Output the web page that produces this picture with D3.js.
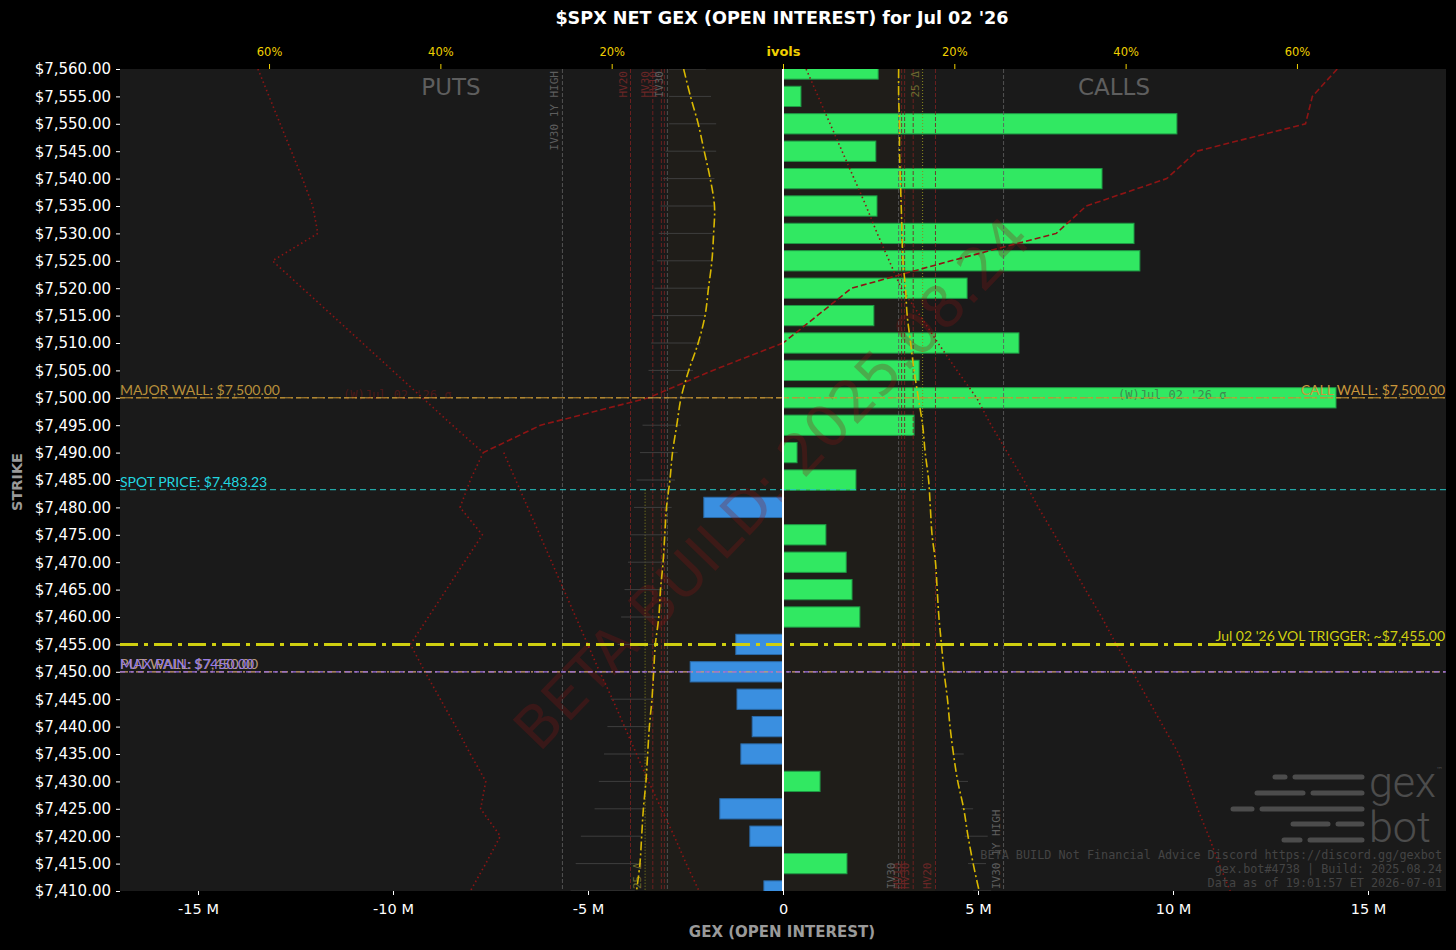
<!DOCTYPE html>
<html><head><meta charset="utf-8">
<script src="https://cdn.jsdelivr.net/npm/d3@7/dist/d3.min.js"></script>
<style>body{margin:0;background:#000;}svg{display:block}</style>
</head><body>
<svg id="chart" width="1456" height="950"></svg>
<script>
// ---------------- DATA ----------------
const strikes = [7560,7555,7550,7545,7540,7535,7530,7525,7520,7515,7510,7505,7500,7495,7490,7485,7480,7475,7470,7465,7460,7455,7450,7445,7440,7435,7430,7425,7420,7415,7410];
const netGex = [2.44,0.46,10.1,2.38,8.18,2.41,9.0,9.15,4.72,2.33,6.05,3.49,14.18,3.36,0.36,1.87,-2.03,1.10,1.62,1.77,1.97,-1.21,-2.38,-1.18,-0.79,-1.08,0.95,-1.62,-0.85,1.64,-0.49];
const putIV = [11.6,10.8,9.9,9.2,8.5,8.0,8.1,8.3,8.7,9.1,9.9,11.0,11.9,12.4,12.9,13.2,13.6,13.8,14.0,14.3,14.5,14.9,15.1,15.3,15.6,15.8,16.0,16.3,16.5,16.7,17.1];
const callIV = [13.5,13.5,13.6,13.6,13.7,13.8,13.9,14.0,14.3,14.5,14.9,15.3,15.8,16.3,16.6,17.0,17.2,17.4,17.8,18.0,18.2,18.5,18.8,19.2,19.5,19.9,20.4,21.1,21.6,22.2,22.9];
const putRangeHigh = [13.3,13.3,13.3,13.7,14.0,14.3,14.5,14.7,15.0,15.2,15.4,15.7,16.0,16.4,16.7,17.1,17.4,17.8,18.1,18.5,18.9,19.3,19.6,20.1,20.5,20.9,21.5,22.0,23.6,24.2,24.8];
const putRangeLow  = [9.0,8.4,7.8,7.8,8.0,8.1,8.2,8.4,8.7,9.0,9.6,10.5,11.3,11.9,12.3,12.6,13.0,13.5,13.7,14.0,14.3,14.5,14.7,15.1,15.4,15.7,15.9,16.1,16.6,17.0,17.3];
const callRangeStrikes = [7435,7430,7425,7420,7415,7410];
const callRangeLow  = [19.9,20.5,20.8,21.2,21.6,22.2];
const callRangeHigh = [21.1,21.6,22.2,23.9,23.7,24.3];
// red skew curves (ivol %)
const putSkewDotted = [61.3,60.0,58.7,57.4,56.1,54.9,54.3,59.6,56.1,52.6,49.1,45.6,42.1,38.6,35.0,36.5,37.7,35.1,37.2,39.3,41.4,43.5,41.8,40.0,38.2,36.5,34.7,35.3,33.0,34.7,36.5];
const putSkewDashedStrikes = [7510,7505,7500,7495,7490];
const putSkewDashed = [0.0,8.2,15.7,28.3,35.0];
const putSkewDotted2Strikes = [7490,7485,7480,7475,7470,7465,7460,7455,7450,7445,7440,7435,7430,7425,7420,7415,7410];
const putSkewDotted2 = [32.6,31.2,29.8,28.4,27.0,25.6,24.2,22.8,21.4,19.9,18.5,17.1,15.7,14.2,12.7,11.3,9.8];
const callSkewDashedStrikes = [7560,7555,7550,7545,7540,7535,7530,7525,7520,7515,7510];
const callSkewDashed = [64.7,61.8,61.0,48.3,44.8,35.4,31.9,19.6,8.0,4.0,0.0];
const callSkewDotted = [2.7,4.1,5.5,6.9,8.3,9.7,11.0,12.4,13.8,16.0,18.1,20.3,22.6,24.3,26.2,28.1,29.8,31.7,33.5,35.3,37.2,38.9,40.8,42.6,44.4,46.2,47.3,48.4,49.7,50.9,52.2];
// realized / implied vol reference lines (%)
const volLineNames  = ["IV30 1Y HIGH","HV20","HV30","HV10","HV5","IV30"];
const volLineValues = [25.75,17.8,15.2,14.2,13.85,13.5];
const volLineKinds  = ["iv","hv","hv","hv","hv","iv"];
const delta25Put = 16.1, delta25Call = 16.3;
// levels
const spotPrice = 7483.23, majorWall = 7500, callWall = 7500, volTrigger = 7455, putWall = 7450, maxPain = 7450;
// axes ticks
const gexTicks = [-15,-10,-5,0,5,10,15];
const gexTickLabels = ["-15 M","-10 M","-5 M","0","5 M","10 M","15 M"];
const ivTicks = [-60,-40,-20,0,20,40,60];
const ivTickLabels = ["60%","40%","20%","ivols","20%","40%","60%"];
const footerLines = ["BETA BUILD Not Financial Advice Discord https://discord.gg/gexbot","gex.bot#4738 | Build: 2025.08.24","Data as of 19:01:57 ET 2026-07-01"];

// ---------------- LAYOUT ----------------
const L=120, R=1446, T=69, B=891;
const svg = d3.select("#chart");
const x = d3.scaleLinear().domain([-17,17]).range([L,R]);
const iv = d3.scaleLinear().domain([-77.4,77.4]).range([L,R]);
const y = d3.scaleLinear().domain([7410,7560]).range([B,T]);
const step = y(7505)-y(7510);
const pX = v => iv(-v), cX = v => iv(v);

svg.append("rect").attr("width",1456).attr("height",950).attr("fill","#000");
svg.append("defs").append("clipPath").attr("id","clip").append("rect").attr("x",L).attr("y",T).attr("width",R-L).attr("height",B-T);
const g = svg.append("g").attr("clip-path","url(#clip)");
g.append("rect").attr("x",L).attr("y",T).attr("width",R-L).attr("height",B-T).attr("fill","#1a1a1a");
// shaded zone
g.append("rect").attr("x",pX(13.5)).attr("y",T).attr("width",cX(delta25Call)-pX(13.5)).attr("height",y(spotPrice)-T).attr("fill","#1f1d19");
g.append("rect").attr("x",pX(delta25Put)).attr("y",y(spotPrice)).attr("width",cX(17.8)-pX(delta25Put)).attr("height",B-y(spotPrice)).attr("fill","#1f1d19");

// bars
g.selectAll("rect.bar").data(strikes).join("rect").attr("class","bar")
  .attr("x",(d,i)=>Math.min(x(0),x(netGex[i])))
  .attr("width",(d,i)=>Math.abs(x(netGex[i])-x(0)))
  .attr("y",d=>y(d)-step*0.37).attr("height",step*0.74)
  .attr("fill",(d,i)=>netGex[i]>=0?"#31e862":"#3a8fe0")
  .attr("stroke",(d,i)=>netGex[i]>=0?"#1f9a45":"#2a6aa8").attr("stroke-width",1);

// watermark
g.append("text").attr("transform",`translate(775,486) rotate(-46)`).attr("text-anchor","middle")
  .attr("font-family","DejaVu Sans").attr("font-size",58).attr("fill","#8a1414").attr("opacity",0.28)
  .attr("dominant-baseline","middle").text("BETA BUILD: 2025.08.24");

// vertical vol lines
volLineValues.forEach((v,i)=>{
  const col = volLineKinds[i]==="iv"?"#5c5c5c":"#7a2222";
  [pX(v),cX(v)].forEach(xx=>{
    g.append("line").attr("x1",xx).attr("x2",xx).attr("y1",T).attr("y2",B)
      .attr("stroke",col).attr("stroke-width",1).attr("stroke-dasharray","4,2").attr("opacity",0.85);
  });
  if(volLineNames[i]!=="HV5"){
    g.append("text").attr("transform",`translate(${pX(v)-4},${T+2}) rotate(-90)`).attr("text-anchor","end")
      .attr("font-family","DejaVu Sans Mono").attr("font-size",11).attr("fill",volLineKinds[i]==="iv"?"#5e5e5e":"#6a2626").text(volLineNames[i]);
    g.append("text").attr("transform",`translate(${cX(v)-4},${B-2}) rotate(-90)`).attr("text-anchor","start")
      .attr("font-family","DejaVu Sans Mono").attr("font-size",11).attr("fill",volLineKinds[i]==="iv"?"#5e5e5e":"#6a2626").text(volLineNames[i]);
  }
});
// 25 delta lines
g.append("line").attr("x1",cX(delta25Call)).attr("x2",cX(delta25Call)).attr("y1",T).attr("y2",y(spotPrice))
  .attr("stroke","#8c8c20").attr("stroke-dasharray","1,2");
g.append("line").attr("x1",pX(delta25Put)).attr("x2",pX(delta25Put)).attr("y1",y(spotPrice)).attr("y2",B)
  .attr("stroke","#8c8c20").attr("stroke-dasharray","1,2");
g.append("text").attr("transform",`translate(${cX(delta25Call)-4},${T+2}) rotate(-90)`).attr("text-anchor","end")
  .attr("font-family","DejaVu Sans Mono").attr("font-size",11).attr("fill","#6e6a30").text("25 Δ");
g.append("text").attr("transform",`translate(${pX(delta25Put)-4},${B-2}) rotate(-90)`).attr("text-anchor","start")
  .attr("font-family","DejaVu Sans Mono").attr("font-size",11).attr("fill","#6e6a30").text("25 Δ");

// range segments
strikes.forEach((s,i)=>{
  g.append("line").attr("x1",pX(putRangeHigh[i])).attr("x2",pX(putRangeLow[i])).attr("y1",y(s)).attr("y2",y(s))
    .attr("stroke","#3e3e3e").attr("stroke-width",1);
});
callRangeStrikes.forEach((s,i)=>{
  g.append("line").attr("x1",cX(callRangeLow[i])).attr("x2",cX(callRangeHigh[i])).attr("y1",y(s)).attr("y2",y(s))
    .attr("stroke","#3e3e3e").attr("stroke-width",1);
});

// red skew curves
const red="#8e1414";
const lineP = d3.line().x(d=>pX(d[1])).y(d=>y(d[0]));
const lineC = d3.line().x(d=>cX(d[1])).y(d=>y(d[0]));
g.append("path").attr("d",lineP(strikes.map((s,i)=>[s,putSkewDotted[i]]))).attr("fill","none").attr("stroke",red).attr("stroke-width",1.6).attr("stroke-dasharray","1.5,3");
g.append("path").attr("d",lineP(putSkewDashedStrikes.map((s,i)=>[s,putSkewDashed[i]]))).attr("fill","none").attr("stroke",red).attr("stroke-width",1.6).attr("stroke-dasharray","6,3");
g.append("path").attr("d",lineP(putSkewDotted2Strikes.map((s,i)=>[s,putSkewDotted2[i]]))).attr("fill","none").attr("stroke",red).attr("stroke-width",1.6).attr("stroke-dasharray","1.5,3");
g.append("path").attr("d",lineC(callSkewDashedStrikes.map((s,i)=>[s,callSkewDashed[i]]))).attr("fill","none").attr("stroke",red).attr("stroke-width",1.6).attr("stroke-dasharray","6,3");
g.append("path").attr("d",lineC(strikes.map((s,i)=>[s,callSkewDotted[i]]))).attr("fill","none").attr("stroke",red).attr("stroke-width",1.6).attr("stroke-dasharray","1.5,3");

// yellow IV curves
const curve = d3.curveCatmullRom;
g.append("path").attr("d",d3.line().curve(curve).x(d=>pX(d[1])).y(d=>y(d[0]))(strikes.map((s,i)=>[s,putIV[i]])))
  .attr("fill","none").attr("stroke","#d9b800").attr("stroke-width",1.6).attr("stroke-dasharray","9,3,2,3");
g.append("path").attr("d",d3.line().curve(curve).x(d=>cX(d[1])).y(d=>y(d[0]))(strikes.map((s,i)=>[s,callIV[i]])))
  .attr("fill","none").attr("stroke","#d9b800").attr("stroke-width",1.6).attr("stroke-dasharray","9,3,2,3");

// ghost labels
g.append("text").attr("x",1118).attr("y",399).attr("font-family","DejaVu Sans Mono").attr("font-size",12).attr("fill","#3f8a50").text("(W)Jul 02 '26 σ");
g.append("text").attr("x",343).attr("y",399).attr("font-family","DejaVu Sans Mono").attr("font-size",12).attr("fill","#4a1818").text("(W)Jul 02 '26 σ");

// horizontal levels
function hline(v,col,w,dash){g.append("line").attr("x1",L).attr("x2",R).attr("y1",y(v)).attr("y2",y(v)).attr("stroke",col).attr("stroke-width",w).attr("stroke-dasharray",dash);}
function lbl(txt,xx,v,col,anchor){g.append("text").attr("x",xx).attr("y",y(v)-3).attr("text-anchor",anchor).attr("font-family","Lato").attr("font-size",14).attr("fill",col).text(txt);}
hline(callWall,"#d99a2a",1,"5,3");
hline(majorWall,"#b8903a",1,"8,3,2,3");
hline(spotPrice,"#25c8c8",1,"6,4");
hline(volTrigger,"#cfcf10",3,"18,6,4,6");
hline(putWall,"#d0a070",1.2,"8,3,2,3");
hline(maxPain,"#9a6ee0",1.2,"5,4");
lbl("MAJOR WALL: $7,500.00",L,majorWall,"#b8903a","start");
lbl("CALL WALL: $7,500.00",R-1,callWall,"#c9963a","end");
lbl("SPOT PRICE: $7,483.23",L,spotPrice,"#22d8e0","start");
lbl("Jul 02 '26 VOL TRIGGER: ~$7,455.00",R-1,volTrigger,"#d0d010","end");
lbl("PUT WALL: $7,450.00",L,putWall,"#b89a78","start");
lbl("MAX PAIN: $7450.00",L,maxPain,"#9a7ee6","start");

// zero line
g.append("line").attr("x1",x(0)).attr("x2",x(0)).attr("y1",T).attr("y2",B).attr("stroke","#fff").attr("stroke-width",2);

// PUTS / CALLS
g.append("text").attr("x",451).attr("y",95).attr("text-anchor","middle").attr("font-family","DejaVu Sans").attr("font-size",23).attr("fill","#5e5e5e").text("PUTS");
g.append("text").attr("x",1114).attr("y",95).attr("text-anchor","middle").attr("font-family","DejaVu Sans").attr("font-size",23).attr("fill","#5e5e5e").text("CALLS");

// logo
const logoRows = [[777,1275,1285,1295,1362],[793,1257,1303,1313,1362],[809,1233,1252,1262,1362],[824,1293,1328,1338,1362],[840,1284,1300,1310,1362]];
logoRows.forEach(r=>{
  [[r[1],r[2]],[r[3],r[4]]].forEach(s=>{
    g.append("line").attr("x1",s[0]).attr("x2",s[1]).attr("y1",r[0]).attr("y2",r[0]).attr("stroke","#4c4c4c").attr("stroke-width",5).attr("stroke-linecap","round");
  });
});
g.append("text").attr("x",1369).attr("y",797).attr("font-family","Roboto").attr("font-weight",300).attr("font-size",43).attr("fill","#4c4c4c").text("gex");
g.append("text").attr("x",1369).attr("y",842).attr("font-family","Roboto").attr("font-weight",300).attr("font-size",43).attr("fill","#4c4c4c").text("bot");
g.append("text").attr("x",1436).attr("y",772).attr("font-family","DejaVu Sans").attr("font-size",7).attr("fill","#4c4c4c").text("™");
// footer
footerLines.forEach((t,i)=>{
  g.append("text").attr("x",1442).attr("y",859+i*14).attr("text-anchor","end").attr("font-family","DejaVu Sans Mono").attr("font-size",11.8).attr("fill","#444").text(t);
});

// ---------------- AXES ----------------
const ya = svg.append("g").attr("transform",`translate(${L},0)`).call(d3.axisLeft(y).tickValues(strikes).tickSize(4).tickFormat(d=>"$"+d3.format(",.2f")(d)));
ya.select(".domain").remove();
ya.selectAll("line").attr("stroke","#fff");
ya.selectAll("text").attr("fill","#fff").attr("font-family","DejaVu Sans").attr("font-size",15).attr("x",-9);

const xa = svg.append("g").attr("transform",`translate(0,${B})`).call(d3.axisBottom(x).tickValues(gexTicks).tickSize(4).tickFormat((d,i)=>gexTickLabels[i]));
xa.select(".domain").remove();
xa.selectAll("line").attr("stroke","#fff");
xa.selectAll("text").attr("fill","#fff").attr("font-family","DejaVu Sans").attr("font-size",14.5).attr("dy","1.1em");

const ta = svg.append("g").attr("transform",`translate(0,${T})`).call(d3.axisTop(iv).tickValues(ivTicks).tickSize(5).tickFormat((d,i)=>ivTickLabels[i]));
ta.select(".domain").remove();
ta.selectAll("line").attr("stroke","#f0d000");
ta.selectAll("text").attr("fill","#f0d000").attr("font-family","DejaVu Sans").attr("dy","-0.4em")
  .attr("font-weight",d=>d===0?"bold":"normal").attr("font-size",d=>d===0?13:11.5);

svg.append("text").attr("x",782).attr("y",24).attr("text-anchor","middle").attr("font-family","DejaVu Sans").attr("font-weight","bold").attr("font-size",17.6).attr("fill","#fff").text("$SPX NET GEX (OPEN INTEREST) for Jul 02 '26");
svg.append("text").attr("x",782).attr("y",937).attr("text-anchor","middle").attr("font-family","DejaVu Sans").attr("font-weight","bold").attr("font-size",15).attr("fill","#9a9a9a").text("GEX (OPEN INTEREST)");
svg.append("text").attr("transform","translate(22,482) rotate(-90)").attr("text-anchor","middle").attr("font-family","DejaVu Sans").attr("font-weight","bold").attr("font-size",14.5).attr("fill","#9a9a9a").text("STRIKE");
</script>
</body></html>
